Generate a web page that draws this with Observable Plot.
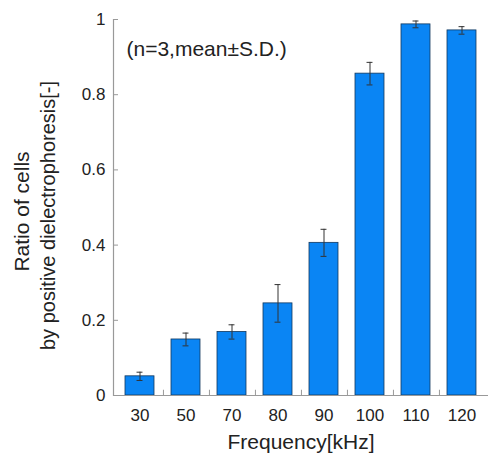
<!DOCTYPE html>
<html>
<head>
<meta charset="utf-8">
<script src="https://cdn.jsdelivr.net/npm/d3@7"></script>
<script src="https://cdn.jsdelivr.net/npm/@observablehq/plot@0.6"></script>
<style>
  html, body { margin: 0; padding: 0; background: #fff; }
</style>
</head>
<body>
<div id="chart"></div>
<script>
const categories = ["30", "50", "70", "80", "90", "100", "110", "120"];
const means = [0.051, 0.149, 0.169, 0.245, 0.406, 0.856, 0.987, 0.971];
const sds = [0.011, 0.017, 0.019, 0.050, 0.036, 0.030, 0.009, 0.010];
const yTicks = [0, 0.2, 0.4, 0.6, 0.8, 1];
const xLabel = "Frequency[kHz]";
const yLabelLines = ["Ratio of cells", "by positive dielectrophoresis[-]"];
const note = "(n=3,mean±S.D.)";

const data = categories.map((c, i) => ({freq: c, mean: means[i], sd: sds[i]}));

const W = 489, H = 462;
const mL = 113, mR = 1, mT = 19, mB = 67;
const padIn = 0.38, padOut = 0.19;
const step = (W - mL - mR) / (categories.length - padIn + 2 * padOut);
const bw = step * (1 - padIn);
const capHalf = 3;

const chart = Plot.plot({
  width: W,
  height: H,
  marginLeft: mL,
  marginRight: mR,
  marginTop: mT,
  marginBottom: mB,
  style: {fontFamily: "'Liberation Sans', Arial, sans-serif", fontSize: "17px", color: "#222", background: "#fff"},
  x: {type: "band", domain: categories, paddingInner: padIn, paddingOuter: padOut, align: 0.5, label: null},
  y: {domain: [0, 1], label: null},
  marks: [
    Plot.barY(data, {x: "freq", y: "mean", fill: "#0a85f4", stroke: "#12385e", strokeWidth: 0.8}),
    Plot.ruleX(data, {x: "freq", y1: d => d.mean - d.sd, y2: d => d.mean + d.sd, stroke: "#333", strokeWidth: 1}),
    Plot.tickY(data, {x: "freq", y: d => d.mean + d.sd, insetLeft: bw / 2 - capHalf, insetRight: bw / 2 - capHalf, stroke: "#333", strokeWidth: 1}),
    Plot.tickY(data, {x: "freq", y: d => d.mean - d.sd, insetLeft: bw / 2 - capHalf, insetRight: bw / 2 - capHalf, stroke: "#333", strokeWidth: 1}),
    Plot.ruleY([0], {stroke: "#999", strokeWidth: 1.2}),
    Plot.frame({anchor: "left", stroke: "#999", strokeWidth: 1.2}),
    Plot.tickY(yTicks, {y: d => d, insetRight: W - mL - mR - 5, stroke: "#999", strokeWidth: 1}),
    Plot.ruleX(categories.slice(0, -1), {x: d => d, y1: 0, y2: 0.014, dx: step / 2, stroke: "#999", strokeWidth: 1}),
    Plot.axisY({ticks: yTicks, tickFormat: d => String(d), tickSize: 0, tickPadding: 8, fontSize: 17, label: null}),
    Plot.axisX({tickSize: 0, tickPadding: 13, fontSize: 17, label: null}),
    Plot.text([xLabel], {frameAnchor: "bottom", dy: 53, fontSize: 21, fill: "#222"}),
    Plot.text([yLabelLines[0]], {frameAnchor: "left", dx: -91, dy: 4, rotate: -90, textAnchor: "middle", fontSize: 21, fill: "#222"}),
    Plot.text([yLabelLines[1]], {frameAnchor: "left", dx: -65, dy: 8, rotate: -90, textAnchor: "middle", fontSize: 20, fill: "#222"}),
    Plot.text([note], {frameAnchor: "top-left", dx: 13, dy: 21.5, textAnchor: "start", fontSize: 21, fill: "#222"})
  ]
});
document.getElementById("chart").appendChild(chart);
</script>
</body>
</html>
